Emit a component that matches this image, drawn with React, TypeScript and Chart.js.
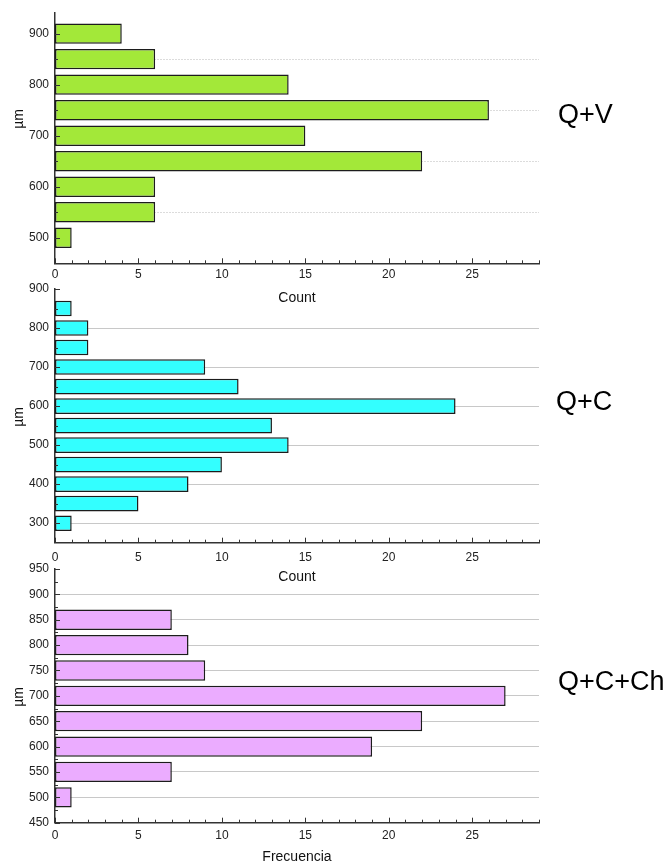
import React, { useEffect, useRef } from "react";
import { Chart, registerables } from "chart.js";

Chart.register(...registerables);

// ---------- data ----------
const qvSizes = [500, 550, 600, 650, 700, 750, 800, 850, 900];
const qvCounts = [1, 6, 6, 22, 15, 26, 14, 6, 4];

const qcSizes = [300, 350, 400, 450, 500, 550, 600, 650, 700, 750, 800, 850];
const qcCounts = [1, 5, 8, 10, 14, 13, 24, 11, 9, 2, 2, 1];

const qcchSizes = [500, 550, 600, 650, 700, 750, 800, 850];
const qcchCounts = [1, 7, 19, 22, 27, 9, 8, 7];

const xTickLabels = [0, 5, 10, 15, 20, 25];
const qvYTickLabels = [500, 600, 700, 800, 900];
const qcYTickLabels = [300, 400, 500, 600, 700, 800, 900];
const qcchYTickLabels = [450, 500, 550, 600, 650, 700, 750, 800, 850, 900, 950];

const qvGridValues = [550, 650, 750, 850];
const qcGridValues = [300, 400, 500, 600, 700, 800];
const qcchGridValues = [500, 550, 600, 650, 700, 750, 800, 850, 900];

const FONT = '"Liberation Sans", Arial, Helvetica, sans-serif';
const W = 668;
const H = 866;
const PLOT_LEFT = 55;
const PLOT_RIGHT = 539;
const X_AXIS_H = 43;
const X_MAX = 29;

type Panel = {
  sizes: number[];
  counts: number[];
  fill: string;
  yMin: number;
  yMax: number;
  yLabels: number[];
  gridValues: number[];
  dotted: boolean;
  top: number;
  bottom: number;
  xLabelPad: number;
  xTitle: string;
  sideLabel: string;
  sideX: number;
  sideY: number;
  umY: number;
};

const panels: Panel[] = [
  {
    sizes: qvSizes,
    counts: qvCounts,
    fill: "#a3e839",
    yMin: 450,
    yMax: 940,
    yLabels: qvYTickLabels,
    gridValues: qvGridValues,
    dotted: true,
    top: 9.3,
    bottom: 263.3,
    xLabelPad: 4.5,
    xTitle: "Count",
    sideLabel: "Q+V",
    sideX: 558,
    sideY: 123,
    umY: 119,
  },
  {
    sizes: qcSizes,
    counts: qcCounts,
    fill: "#33ffff",
    yMin: 250,
    yMax: 900,
    yLabels: qcYTickLabels,
    gridValues: qcGridValues,
    dotted: false,
    top: 289,
    bottom: 542.7,
    xLabelPad: 7.6,
    xTitle: "Count",
    sideLabel: "Q+C",
    sideX: 556,
    sideY: 410,
    umY: 417,
  },
  {
    sizes: qcchSizes,
    counts: qcchCounts,
    fill: "#ebacff",
    yMin: 450,
    yMax: 950,
    yLabels: qcchYTickLabels,
    gridValues: qcchGridValues,
    dotted: false,
    top: 569,
    bottom: 822.7,
    xLabelPad: 6,
    xTitle: "Frecuencia",
    sideLabel: "Q+C+Ch",
    sideX: 558,
    sideY: 690,
    umY: 697,
  },
];

function decorPlugin(p: Panel) {
  return {
    id: "decor",
    afterDraw(chart: any) {
      const { ctx, chartArea, scales } = chart;
      const x = scales.x;
      const y = scales.y;
      ctx.save();
      ctx.strokeStyle = "#333";
      ctx.lineWidth = 1;
      // x ticks (inward)
      for (let v = 0; v <= X_MAX; v++) {
        const px = Math.round(x.getPixelForValue(v)) + 0.5;
        const len = v % 5 === 0 ? 5 : 3;
        ctx.beginPath();
        ctx.moveTo(px, chartArea.bottom);
        ctx.lineTo(px, chartArea.bottom - len);
        ctx.stroke();
      }
      // y ticks (inward): majors at labels, minors at midpoints
      const majors = p.yLabels;
      const step = majors[1] - majors[0];
      for (const v of majors) {
        const py = Math.round(y.getPixelForValue(v)) + 0.5;
        ctx.beginPath();
        ctx.moveTo(chartArea.left, py);
        ctx.lineTo(chartArea.left + 5, py);
        ctx.stroke();
      }
      for (let v = majors[0] - step / 2; v <= p.yMax; v += step) {
        if (v <= p.yMin) continue;
        const py = Math.round(y.getPixelForValue(v)) + 0.5;
        ctx.beginPath();
        ctx.moveTo(chartArea.left, py);
        ctx.lineTo(chartArea.left + 3, py);
        ctx.stroke();
      }
      // y axis title
      ctx.fillStyle = "#111";
      ctx.font = `14px ${FONT}`;
      ctx.textAlign = "center";
      ctx.textBaseline = "middle";
      ctx.translate(19, p.umY);
      ctx.rotate(-Math.PI / 2);
      ctx.fillText("µm", 0, 0);
      ctx.restore();
      // side label
      ctx.save();
      ctx.fillStyle = "#000";
      ctx.font = `27px ${FONT}`;
      ctx.textAlign = "left";
      ctx.textBaseline = "alphabetic";
      ctx.fillText(p.sideLabel, p.sideX, p.sideY);
      ctx.restore();
    },
  };
}

function makeChart(canvas: HTMLCanvasElement, p: Panel) {
  const data = p.sizes.map((s, i) => ({ x: p.counts[i], y: s }));
  const yTickValues = Array.from(new Set([...p.yLabels, ...p.gridValues])).sort((a, b) => a - b);
  return new Chart(canvas, {
    type: "bar",
    data: {
      datasets: [
        {
          data: data as any,
          backgroundColor: p.fill,
          borderColor: "#1c1c1c",
          borderWidth: 1.5,
          borderSkipped: false,
          barPercentage: 1,
          categoryPercentage: 0.8,
        } as any,
      ],
    },
    options: {
      indexAxis: "y",
      animation: false,
      responsive: false,
      events: [],
      layout: {
        padding: {
          top: p.top,
          bottom: H - p.bottom - X_AXIS_H,
          left: 0,
          right: W - PLOT_RIGHT,
        },
      },
      plugins: {
        legend: { display: false },
        tooltip: { enabled: false },
        title: { display: false },
      },
      scales: {
        x: {
          type: "linear",
          position: "bottom",
          min: 0,
          max: X_MAX,
          offset: false,
          afterFit: (s: any) => {
            s.height = X_AXIS_H;
          },
          afterBuildTicks: (s: any) => {
            s.ticks = xTickLabels.map((v) => ({ value: v }));
          },
          grid: { display: false, drawTicks: false, offset: false },
          border: { display: true, color: "#333", width: 1.5 },
          ticks: {
            padding: p.xLabelPad,
            autoSkip: false,
            maxRotation: 0,
            color: "#222",
            font: { family: FONT, size: 12 },
          },
          title: {
            display: true,
            text: p.xTitle,
            color: "#111",
            font: { family: FONT, size: 14 },
            padding: { top: 0, bottom: 0 },
          },
        },
        y: {
          type: "linear",
          position: "left",
          min: p.yMin,
          max: p.yMax,
          offset: false,
          afterFit: (s: any) => {
            s.width = PLOT_LEFT;
          },
          afterBuildTicks: (s: any) => {
            s.ticks = yTickValues.map((v) => ({ value: v }));
          },
          grid: {
            display: true,
            drawTicks: false,
            offset: false,
            lineWidth: 1,
            color: (ctx: any) =>
              ctx.tick && p.gridValues.includes(ctx.tick.value)
                ? p.dotted
                  ? "#b8b8b8"
                  : "#c8c8c8"
                : "rgba(0,0,0,0)",
          },
          border: {
            display: true,
            color: "#333",
            width: 1.5,
            dash: p.dotted ? [1, 2] : [],
          },
          ticks: {
            padding: 6,
            autoSkip: false,
            color: "#222",
            font: { family: FONT, size: 12 },
            callback: (v: any) => (p.yLabels.includes(Number(v)) ? String(v) : ""),
          },
        },
      },
    } as any,
    plugins: [decorPlugin(p)],
  });
}

export default function App() {
  const r1 = useRef<HTMLCanvasElement>(null);
  const r2 = useRef<HTMLCanvasElement>(null);
  const r3 = useRef<HTMLCanvasElement>(null);

  useEffect(() => {
    const refs = [r1, r2, r3];
    const charts = refs.map((r, i) => makeChart(r.current as HTMLCanvasElement, panels[i]));
    return () => charts.forEach((c) => c.destroy());
  }, []);

  const cs: React.CSSProperties = {
    position: "absolute",
    left: 0,
    top: 0,
    width: W,
    height: H,
  };

  return (
    <div
      style={{
        position: "absolute",
        left: 0,
        top: 0,
        width: W,
        height: H,
        background: "#fff",
        overflow: "hidden",
      }}
    >
      <canvas ref={r1} width={W} height={H} style={cs} />
      <canvas ref={r2} width={W} height={H} style={cs} />
      <canvas ref={r3} width={W} height={H} style={cs} />
    </div>
  );
}
